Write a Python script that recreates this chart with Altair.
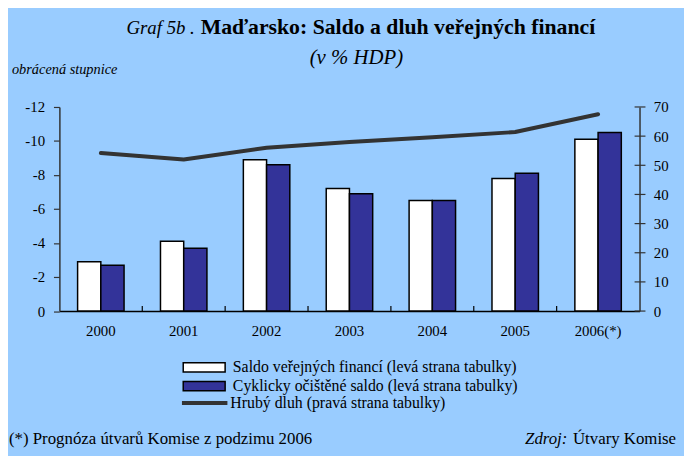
import altair as alt
import pandas as pd

# ---- data ----
years = ["2000", "2001", "2002", "2003", "2004", "2005", "2006(*)"]
saldo = [-2.9, -4.1, -8.9, -7.2, -6.5, -7.8, -10.1]
cyclic = [-2.7, -3.7, -8.6, -6.9, -6.5, -8.1, -10.5]
debt = [54.2, 52.0, 56.0, 58.0, 59.6, 61.4, 67.5]
series_names = [
    "Saldo veřejných financí (levá strana tabulky)",
    "Cyklicky očištěné saldo (levá strana tabulky)",
]
debt_name = "Hrubý dluh (pravá strana tabulky)"
left_ticks = [0, -2, -4, -6, -8, -10, -12]
right_ticks = [0, 10, 20, 30, 40, 50, 60, 70]

W, H = 587, 206.5
FONT = "Liberation Serif"
BG = "#99CCFF"
DARK = "#333399"
LINE = "#333333"

bars_df = pd.DataFrame({
    "year": years * 2,
    "series": [series_names[0]] * len(years) + [series_names[1]] * len(years),
    "value": saldo + cyclic,
})
debt_df = pd.DataFrame({"year": years, "debt": debt, "name": [debt_name] * len(years)})
rt_df = pd.DataFrame({"t": right_ticks})
xt_df = pd.DataFrame({"year": years[1:]})

bars = alt.Chart(bars_df).mark_bar(stroke="black", strokeWidth=1.5).encode(
    x=alt.X("year:N", sort=years, title=None,
            scale=alt.Scale(paddingInner=0, paddingOuter=0),
            axis=alt.Axis(labelFont=FONT, labelFontSize=15, labelColor="black",
                          labelAngle=0, ticks=False, tickSize=0, labelPadding=13,
                          domainColor="black", domainWidth=1.5)),
    xOffset=alt.XOffset("series:N", sort=series_names,
                        scale=alt.Scale(paddingInner=0, paddingOuter=0.784)),
    y=alt.Y("value:Q", title=None,
            scale=alt.Scale(domain=[0, -12], nice=False),
            axis=alt.Axis(orient="left", values=left_ticks, labelExpr="'' + datum.value",
                          labelFont=FONT, labelFontSize=15, labelColor="black",
                          tickSize=6, tickColor="#333333", tickWidth=1.2,
                          domainColor="#333333", domainWidth=1.5, labelPadding=9,
                          grid=False)),
    y2=alt.datum(0),
    fill=alt.Fill("series:N", sort=series_names,
                  scale=alt.Scale(domain=series_names, range=["white", DARK]),
                  legend=alt.Legend(orient="none", legendX=138.5, legendY=255.5, title=None,
                                    symbolType="M-4.24,-0.94H4.24V0.94H-4.24Z", symbolSize=100,
                                    symbolStrokeColor="black", symbolStrokeWidth=1.5,
                                    symbolOpacity=1, labelLimit=500,
                                    labelFont=FONT, labelFontSize=16, labelColor="black",
                                    labelOffset=21, rowPadding=3, padding=0)),
)

line = alt.Chart(debt_df).mark_line(strokeWidth=4, strokeCap="round", strokeJoin="round").encode(
    x=alt.X("year:N", sort=years, title=None),
    y=alt.Y("debt:Q", title=None,
            scale=alt.Scale(domain=[0, 70], nice=False),
            axis=alt.Axis(orient="right", values=right_ticks, ticks=False, tickSize=0,
                          labelPadding=14, labelFont=FONT, labelFontSize=15,
                          labelColor="black", domainColor="#333333", domainWidth=1.5,
                          grid=False)),
    stroke=alt.Stroke("name:N",
                      scale=alt.Scale(domain=[debt_name], range=[LINE]),
                      legend=alt.Legend(orient="none", legendX=139, legendY=291.5, title=None,
                                        symbolType="M-4.6,0H4.6", symbolSize=100,
                                        symbolStrokeWidth=4, labelLimit=500,
                                        labelFont=FONT, labelFontSize=16, labelColor="black",
                                        labelOffset=18, padding=0)),
)

rticks = alt.Chart(rt_df).mark_rule(color="#333333", strokeWidth=1.2).encode(
    y=alt.Y("t:Q", scale=alt.Scale(domain=[0, 70], nice=False), axis=None),
    x=alt.value(W - 5),
    x2=alt.value(W + 6),
)

xticks = alt.Chart(xt_df).mark_rule(color="black", strokeWidth=1.2).encode(
    x=alt.X("year:N", sort=years, bandPosition=0, title=None),
    y=alt.value(H - 5),
    y2=alt.value(H),
)


def txt(text, x, y, size, style="normal", weight="normal", align="left"):
    return alt.Chart(pd.DataFrame({"t": [text]})).mark_text(
        align=align, baseline="alphabetic", font=FONT, fontSize=size,
        fontStyle=style, fontWeight=weight, color="black",
    ).encode(x=alt.value(x), y=alt.value(y), text="t:N")


texts = [
    txt("Graf 5b .", 137, -73.5, 19, style="italic", align="right"),
    txt("Maďarsko: Saldo a dluh veřejných financí", 143, -73.5, 22, weight="bold"),
    txt("(v % HDP)", 300.5, -43.5, 21, style="italic", align="center"),
    txt("obrácená stupnice", -48, -33.5, 14.5, style="italic"),
    txt("(*) Prognóza útvarů Komise z podzimu 2006", -51, 341.5, 17),
    txt("Zdroj:", 514, 341.5, 17, style="italic", align="right"),
    txt("Útvary Komise", 624, 341.5, 17, align="right"),
]

chart = alt.layer(bars, line, rticks, xticks, *texts).resolve_scale(
    y="independent"
).properties(
    width=W, height=H,
    background=BG,
    padding={"left": 52, "top": 97.5, "right": 45, "bottom": 144},
    autosize=alt.AutoSizeParams(type="none"),
).configure_view(strokeWidth=0)

chart.save("out.html", embed_options={"renderer": "svg", "actions": False})
